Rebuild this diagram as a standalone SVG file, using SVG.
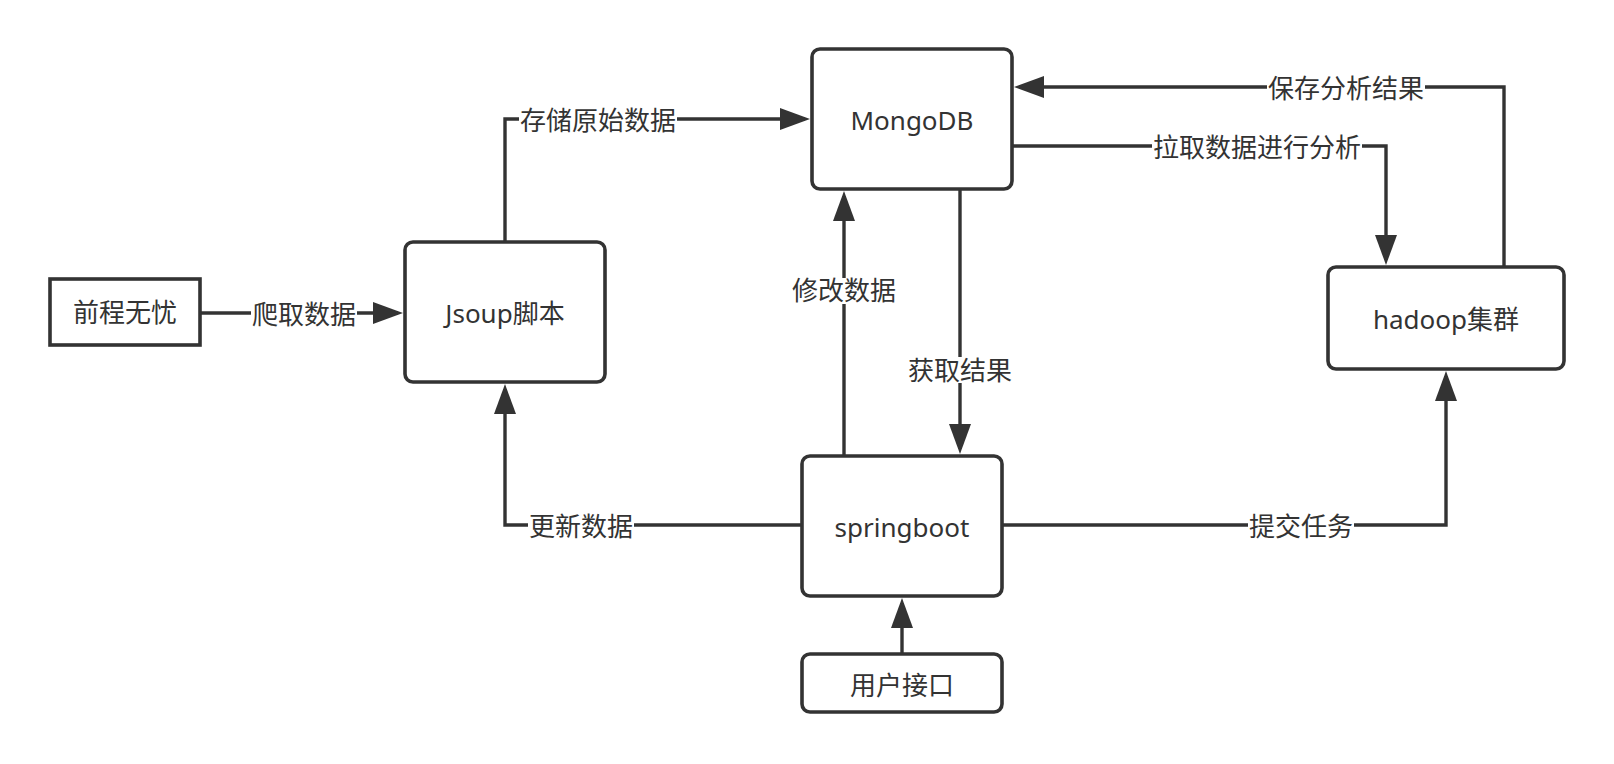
<svg xmlns="http://www.w3.org/2000/svg" width="1614" height="764" viewBox="0 0 1614 764">
<style>
.box{fill:#fff;stroke:#333;stroke-width:3.6}
.t{font-family:"Noto Sans","Noto Sans CJK SC",sans-serif;font-size:26px;fill:#333;text-anchor:middle;dominant-baseline:central}
.c{fill:none;stroke:#333;stroke-width:3.4}
.lb{fill:#fff}
</style>
<defs>
<marker id="ah" markerUnits="userSpaceOnUse" markerWidth="32" markerHeight="24" refX="25" refY="11" orient="auto" overflow="visible">
<path d="M0,0 L30,11 L0,22 Z" fill="#333"/>
</marker>
</defs>
<rect width="1614" height="764" fill="#fff"/>
<g id="connectors">
<path class="c" d="M200,313 L398,313" marker-end="url(#ah)"/>
<path class="c" d="M505,242 L505,119 L805,119" marker-end="url(#ah)"/>
<path class="c" d="M1504,267 L1504,87 L1019,87" marker-end="url(#ah)"/>
<path class="c" d="M1012,146 L1386,146 L1386,260" marker-end="url(#ah)"/>
<path class="c" d="M844,456 L844,196" marker-end="url(#ah)"/>
<path class="c" d="M960,189 L960,449" marker-end="url(#ah)"/>
<path class="c" d="M802,525 L505,525 L505,389" marker-end="url(#ah)"/>
<path class="c" d="M1002,525 L1446,525 L1446,376" marker-end="url(#ah)"/>
<path class="c" d="M902,654 L902,603" marker-end="url(#ah)"/>
<rect class="lb" x="251" y="300" width="106" height="26"/>
<text class="t" x="304" y="314">爬取数据</text>
<rect class="lb" x="519" y="106" width="158" height="26"/>
<text class="t" x="598" y="120">存储原始数据</text>
<rect class="lb" x="1267" y="74" width="158" height="26"/>
<text class="t" x="1346" y="88">保存分析结果</text>
<rect class="lb" x="1152" y="133" width="210" height="26"/>
<text class="t" x="1257" y="147">拉取数据进行分析</text>
<rect class="lb" x="791" y="278" width="106" height="26"/>
<text class="t" x="844" y="290">修改数据</text>
<rect class="lb" x="907" y="357" width="106" height="26"/>
<text class="t" x="960" y="370">获取结果</text>
<rect class="lb" x="528" y="512" width="106" height="26"/>
<text class="t" x="581" y="526">更新数据</text>
<rect class="lb" x="1248" y="512" width="106" height="26"/>
<text class="t" x="1301" y="526">提交任务</text>
</g>
<g id="qiancheng">
<rect class="box" x="50" y="279" width="150" height="66"/>
<text class="t" x="125" y="312">前程无忧</text>
</g>
<g id="jsoup">
<rect class="box" x="405" y="242" width="200" height="140" rx="8"/>
<text class="t" x="505" y="313">Jsoup脚本</text>
</g>
<g id="mongodb">
<rect class="box" x="812" y="49" width="200" height="140" rx="8"/>
<text class="t" x="912" y="120">MongoDB</text>
</g>
<g id="hadoop">
<rect class="box" x="1328" y="267" width="236" height="102" rx="8"/>
<text class="t" x="1446" y="319">hadoop集群</text>
</g>
<g id="springboot">
<rect class="box" x="802" y="456" width="200" height="140" rx="8"/>
<text class="t" x="902" y="527">springboot</text>
</g>
<g id="userapi">
<rect class="box" x="802" y="654" width="200" height="58" rx="8"/>
<text class="t" x="902" y="685">用户接口</text>
</g>
</svg>
